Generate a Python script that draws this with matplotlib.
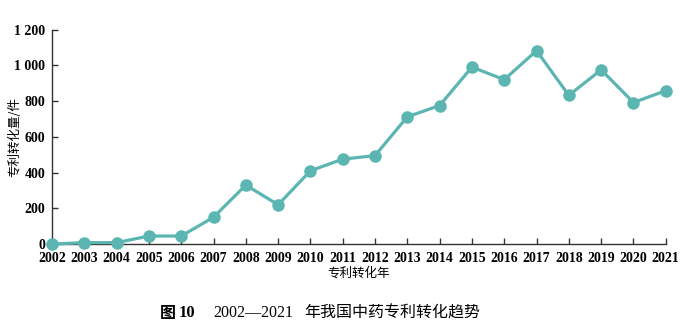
import matplotlib.pyplot as plt
from matplotlib.ticker import FuncFormatter

# 专利转化量 (件), 2002-2021
years = list(range(2002, 2022))
counts = [0, 8, 8, 45, 45, 150, 330, 220, 410, 475, 495, 712, 775, 990, 920,
          1082, 832, 975, 792, 858]

yticks = [0, 200, 400, 600, 800, 1000, 1200]

color = '#5bb5b1'
num_font = ['Liberation Serif', 'DejaVu Serif']
cjk_font = ['Noto Sans CJK SC', 'DejaVu Sans']

plt.rcParams['font.family'] = num_font
plt.rcParams['font.weight'] = 'bold'

fig = plt.figure(figsize=(6.8, 3.25), dpi=100)
ax = fig.add_axes([0.0765, 0.249, 0.9025, 0.66])

ax.plot(years, counts, color=color, lw=2.3, marker='o', ms=8,
        markeredgecolor=color, markerfacecolor=color, clip_on=False, zorder=3)

ax.set_xlim(2002, 2021)
ax.set_ylim(0, 1200)
ax.set_xticks(years)
ax.set_yticks(yticks)
ax.yaxis.set_major_formatter(FuncFormatter(lambda v, p: f'{int(v):,}'.replace(',', ' ')))

for s in ['top', 'right']:
    ax.spines[s].set_visible(False)
for s in ['left', 'bottom']:
    ax.spines[s].set_linewidth(1.0)
    ax.spines[s].set_color('#333333')

ax.tick_params(direction='in', length=4, width=1.0, color='#333333', labelsize=10)
ax.tick_params(axis='x', pad=6)
ax.tick_params(axis='y', pad=5)

ax.set_xlabel('专利转化年', family=cjk_font, fontsize=9, fontweight='normal', labelpad=1)
ax.set_ylabel('专利转化量/件', family=cjk_font, fontsize=9, fontweight='normal')
ax.yaxis.set_label_coords(-0.05, 0.5)

fig.text(0.235, 0.037, '图', family=cjk_font, fontsize=11.5, fontweight='bold', va='center')
fig.text(0.262, 0.037, '10', family=num_font, fontsize=12, fontweight='bold', va='center')
fig.text(0.313, 0.037, '2002—2021', family=num_font, fontsize=11.5, fontweight='normal', va='center')
fig.text(0.447, 0.037, '年我国中药专利转化趋势', family=cjk_font, fontsize=11.5,
         fontweight='normal', va='center')

fig.savefig('out.png', dpi=100)
